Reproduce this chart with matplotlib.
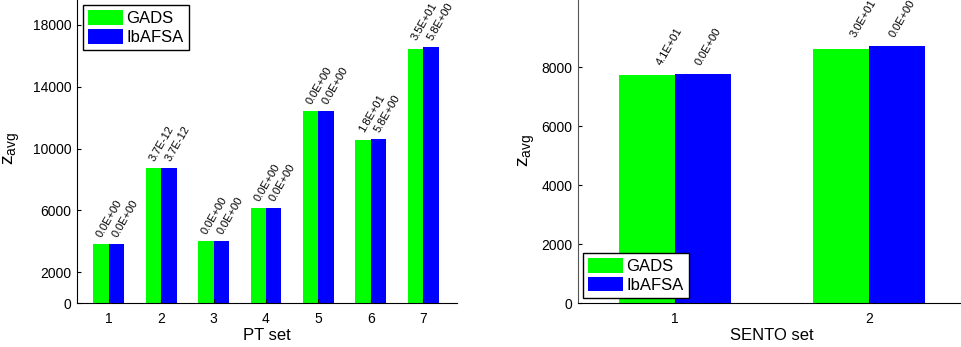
import numpy as np
import matplotlib
matplotlib.use('Agg')
import matplotlib.pyplot as plt

plt.rcParams['font.family'] = ['Liberation Sans', 'DejaVu Sans']
plt.rcParams['mathtext.default'] = 'regular'

# PT set results
pt_sets = [1, 2, 3, 4, 5, 6, 7]
pt_gads = [3820, 8760, 4025, 6137, 12423, 10570, 16428]
pt_ibafsa = [3830, 8760, 4025, 6137, 12423, 10633, 16557]
pt_gads_lbl = ['0.0E+00', '3.7E-12', '0.0E+00', '0.0E+00', '0.0E+00', '1.8E+01', '3.5E+01']
pt_ibafsa_lbl = ['0.0E+00', '3.7E-12', '0.0E+00', '0.0E+00', '0.0E+00', '5.8E+00', '5.8E+00']
pt_yticks = [0, 2000, 6000, 10000, 14000, 18000]

# SENTO set results
sento_sets = [1, 2]
sento_gads = [7729, 8620]
sento_ibafsa = [7773, 8722]
sento_gads_lbl = ['4.1E+01', '3.0E+01']
sento_ibafsa_lbl = ['0.0E+00', '0.0E+00']
sento_yticks = [0, 2000, 4000, 6000, 8000]

GREEN = '#00ff00'
BLUE = '#0000ff'
W, H = 961, 347

fig = plt.figure(figsize=(W / 100, H / 100), dpi=100)


def px_axes(x0, x1, y_bottom, y_top):
    # pixel box (from top-left) -> figure fraction
    return fig.add_axes([x0 / W, 1 - y_bottom / H, (x1 - x0) / W, (y_bottom - y_top) / H])


def grouped(ax, xs, a, b, la, lb, width, dx_a, dx_b, dy):
    xs = np.asarray(xs, dtype=float)
    ax.bar(xs - width / 2, a, width, color=GREEN, label='GADS', linewidth=0)
    ax.bar(xs + width / 2, b, width, color=BLUE, label='IbAFSA', linewidth=0)
    for i, x in enumerate(xs):
        top = max(a[i], b[i])
        ax.annotate(la[i], (x - width / 2, top), xytext=(dx_a, dy), textcoords='offset points',
                    rotation=60, rotation_mode='anchor', ha='left', va='bottom', fontsize=8)
        ax.annotate(lb[i], (x + width / 2, top), xytext=(dx_b, dy), textcoords='offset points',
                    rotation=60, rotation_mode='anchor', ha='left', va='bottom', fontsize=8)


def style(ax, xlabel, spine_col='black'):
    for s in ['top', 'right']:
        ax.spines[s].set_visible(False)
    ax.spines['left'].set_color(spine_col)
    ax.tick_params(direction='in', length=3, labelsize=10, pad=4)
    ax.tick_params(axis='x', pad=6)
    ax.set_xlabel(xlabel, fontsize=12, labelpad=2)


# left panel
ax1 = px_axes(77.3, 457.3, 303.3, -6.3)
grouped(ax1, pt_sets, pt_gads, pt_ibafsa, pt_gads_lbl, pt_ibafsa_lbl, 0.295, 2.0, 2.2, 3.6)
ax1.set_xlim(0.4, 7.65)
ax1.set_ylim(0, 20000)
ax1.set_yticks(pt_yticks)
ax1.set_xticks(pt_sets)
style(ax1, 'PT set')
ax1.set_ylabel('$z_{avg}$', fontsize=14, va='center')
ax1.yaxis.set_label_coords(-(77.3 - 12) / 380, 0.5)
ax1.legend(loc='upper left', bbox_to_anchor=(83 / W, 1 - 5 / H), bbox_transform=fig.transFigure,
           borderaxespad=0, fontsize=12, handlelength=2.1, handleheight=1.0, handletextpad=0.2,
           labelspacing=0.15, borderpad=0.3, fancybox=False, framealpha=1, edgecolor='black')

# right panel
ax2 = px_axes(578, 966, 303.3, -3.3)
grouped(ax2, sento_sets, sento_gads, sento_ibafsa, sento_gads_lbl, sento_ibafsa_lbl, 0.287,
        11.5, -0.7, 5.0)
ax2.set_xlim(0.5, 2.5)
ax2.set_ylim(0, 10390)
ax2.set_yticks(sento_yticks)
ax2.set_xticks(sento_sets)
style(ax2, 'SENTO set', spine_col='#555555')
ax2.set_ylabel('$z_{avg}$', fontsize=14, va='center')
ax2.yaxis.set_label_coords(-(578 - 527) / 388, 0.5)
ax2.legend(loc='lower left', bbox_to_anchor=(583 / W, 1 - 297.7 / H), bbox_transform=fig.transFigure,
           borderaxespad=0, fontsize=12, handlelength=2.1, handleheight=1.0, handletextpad=0.2,
           labelspacing=0.15, borderpad=0.3, fancybox=False, framealpha=1, edgecolor='black')

fig.savefig('out.png', dpi=100)
